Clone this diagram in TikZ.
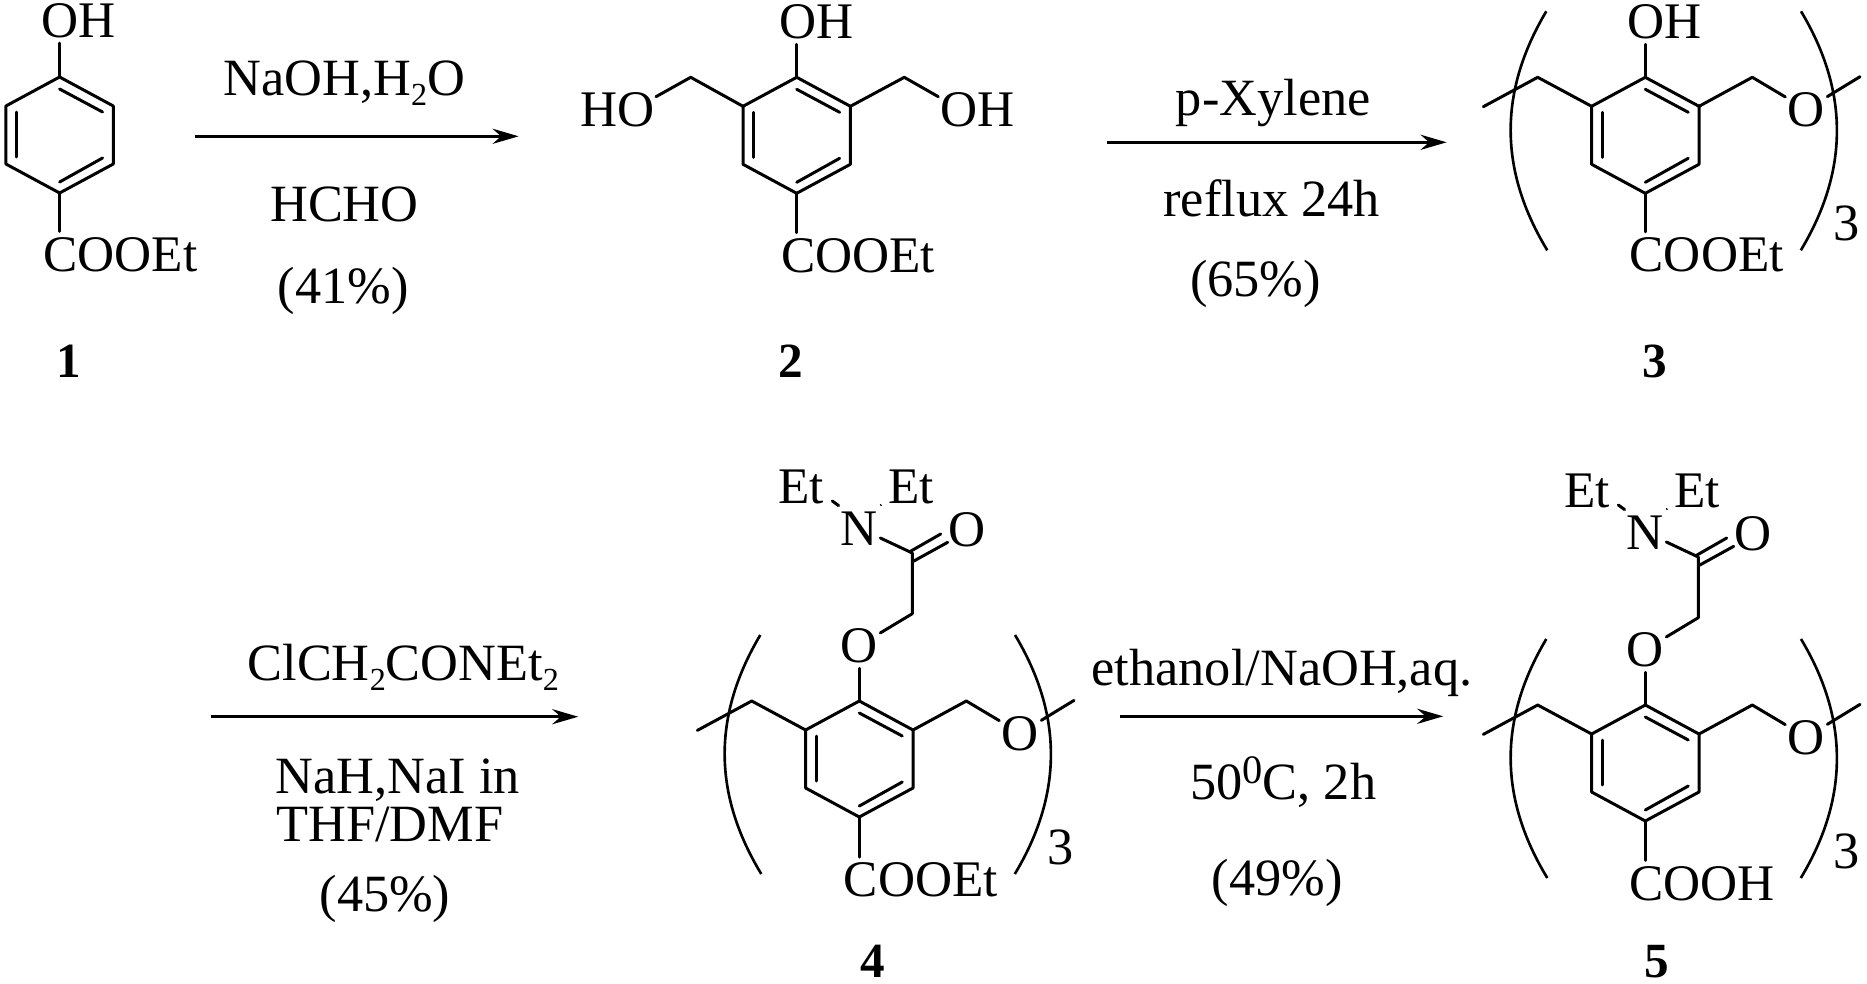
\documentclass[tikz,border=0pt]{standalone}
\usepackage{fontspec}
\setmainfont{Liberation Serif}
\usetikzlibrary{arrows.meta}

\newcommand{\subTxt}[1]{\raisebox{-.2em}{\fontsize{18.3}{18.3}\selectfont #1}}
\newcommand{\supTxt}[1]{\raisebox{.31em}{\fontsize{23}{23}\selectfont #1}}

\tikzset{
    bond/.style={line width=1.7pt, line cap=round, line join=round},
    brace/.style={line width=1.5pt},
    rarrow/.style={line width=2pt, -{Stealth[length=.52cm, width=.3cm]}},
    atom/.style={font=\fontsize{29.2}{30}\selectfont, anchor=base, inner sep=0pt,
        text height=19.2pt, text depth=0pt, outer xsep=.05cm, outer ysep=.12cm},
    rxn/.style={font=\fontsize{29.8}{30}\selectfont, anchor=base, inner sep=0pt},
    lbl/.style={font=\fontsize{28}{30}\selectfont\bfseries, anchor=base, inner sep=0pt}
}

% #1 prefix, #2 x, #3 y (top vertex), #4 half width
\newcommand{\benzeneRing}[4]{%
    \begin{scope}[shift={(#2,#3)}]
        \pgfmathsetmacro{\inW}{.8*#4}
        \coordinate (#1t) at (0,0);
        \coordinate (#1ur) at (#4,29);
        \coordinate (#1lr) at (#4,87);
        \coordinate (#1b) at (0,116);
        \coordinate (#1ll) at (-#4,87);
        \coordinate (#1ul) at (-#4,29);
        \draw[bond] (#1t) -- (#1ur) -- (#1lr) -- (#1b) -- (#1ll) -- (#1ul) -- cycle;
        \draw[bond] (0,12) -- (\inW,35);
        \draw[bond] (-\inW,35) -- (-\inW,80);
        \draw[bond] (0,105) -- (\inW,81);
    \end{scope}
}

% ring with both arms, O, brackets and the 3
\newcommand{\repeatUnit}[3]{%
    \benzeneRing{#1}{#2}{#3}{53.7}
    \begin{scope}[shift={(#2,#3)}]
        \coordinate (#1cl) at (-107.6,0);
        \coordinate (#1cr) at (107,0);
        \coordinate (#1sl) at (-162,29.4);
        \coordinate (#1sr) at (214.7,-.6);
        \node[atom] (#1o) at (161,49) {O};
        \node[rxn] (#1three) at (201.4,163) {3};
        \draw[bond] (#1sl) -- (#1cl) -- (#1ul);
        \draw[bond] (#1ur) -- (#1cr) -- (#1o);
        \draw[bond] (#1o) -- (#1sr);
        \coordinate (#1la) at (-99,-66);
        \coordinate (#1lz) at (-98,173);
        \coordinate (#1ra) at (155.7,-66);
        \coordinate (#1rz) at (155.5,173);
        \draw[brace] (#1la) to[bend right=31] (#1lz);
        \draw[brace] (#1ra) to[bend left=31] (#1rz);
    \end{scope}
}

% OCH2CONEt2 on top of the ring
\newcommand{\amideArm}[3]{%
    \begin{scope}[shift={(#2,#3)}]
        \node[atom] (#1eo) at (0,-38.6) {O};
        \coordinate (#1ch) at (53,-87.3);
        \coordinate (#1co) at (53,-148);
        \node[atom] (#1n) at (0,-156) {N};
        \node[atom] (#1do) at (108,-155) {O};
        \node[atom] (#1el) at (-58,-197.7) {Et};
        \node[atom] (#1er) at (52,-197.7) {Et};
        \draw[bond] (#1t) -- (#1eo);
        \draw[bond] (#1eo) -- (#1ch) -- (#1co) -- (#1n);
        \draw[bond] (50,-149) -- (81.4,-167);
        \draw[bond] (54,-139.7) -- (88.4,-158.7);
        \draw[bond] (-27,-200) -- (-20.7,-195.4);
        \draw[line width=.7pt] (21,-196.7) -- (22,-195.2);
    \end{scope}
}

\begin{document}
\begin{tikzpicture}[x=.02cm, y=-.02cm]
    \useasboundingbox (0,0) rectangle (1867,984);

    % compound 1
    \benzeneRing{a}{59.6}{77}{53.7}
    \node[atom] (aoh) at (78.7,37) {OH};
    \node[atom] (acooet) at (120.4,271) {COOEt};
    \draw[bond] (at) -- (at |- aoh.south);
    \draw[bond] (ab) -- (ab |- acooet.north);
    \node[lbl] (one) at (68.4,377.7) {1};

    % first arrow
    \coordinate (ar1a) at (194.8,136.3);
    \coordinate (ar1b) at (518.7,136.3);
    \draw[rarrow] (ar1a) -- (ar1b);
    \node[rxn] (naoh) at (344.4,95) {NaOH,H\subTxt{2}O};
    \node[rxn] (hcho) at (344.4,221.7) {HCHO};
    \node[rxn] (yielda) at (343.4,303) {(41\%)};

    % compound 2
    \benzeneRing{c}{796.7}{77.3}{53.7}
    \coordinate (ccl) at (690.7,77.3);
    \coordinate (ccr) at (904.3,77.3);
    \node[atom] (coh) at (816.3,38.3) {OH};
    \node[atom] (cho) at (617.5,126.7) {HO};
    \node[atom] (cohr) at (977.2,126.7) {OH};
    \node[atom] (ccooet) at (858.3,272.3) {COOEt};
    \draw[bond] (ct) -- (ct |- coh.south);
    \draw[bond] (cb) -- (cb |- ccooet.north);
    \draw[bond] (cul) -- (ccl) -- (656,96.7);
    \draw[bond] (cur) -- (ccr) -- (938.3,96.7);
    \node[lbl] (two) at (790.7,377.7) {2};

    % second arrow
    \coordinate (ar2a) at (1106.7,142.3);
    \coordinate (ar2b) at (1446.7,142.3);
    \draw[rarrow] (ar2a) -- (ar2b);
    \node[rxn] (xyl) at (1273.3,115) {p-Xylene};
    \node[rxn] (refl) at (1271.7,216) {reflux 24h};
    \node[rxn] (yieldb) at (1255.5,296) {(65\%)};

    % compound 3
    \repeatUnit{d}{1645.3}{77.3}
    \node[atom] (doh) at (1664.5,38.3) {OH};
    \node[atom] (dcooet) at (1706.7,271.7) {COOEt};
    \draw[bond] (dt) -- (dt |- doh.south);
    \draw[bond] (db) -- (db |- dcooet.north);
    \node[lbl] (three) at (1655,377.7) {3};

    % third arrow
    \coordinate (ar3a) at (211,716.7);
    \coordinate (ar3b) at (578.3,716.7);
    \draw[rarrow] (ar3a) -- (ar3b);
    \node[rxn] (clch) at (403.3,680) {ClCH\subTxt{2}CONEt\subTxt{2}};
    \node[rxn] (nah) at (397.8,793.3) {NaH,NaI in};
    \node[rxn] (thf) at (390,841.7) {THF/DMF};
    \node[rxn] (yieldc) at (385,911.7) {(45\%)};

    % compound 4
    \repeatUnit{e}{859.3}{701}
    \amideArm{e}{859.3}{701}
    \node[atom] (ecooet) at (920.8,896.8) {COOEt};
    \draw[bond] (eb) -- (eb |- ecooet.north);
    \node[lbl] (four) at (872.5,977.7) {4};

    % fourth arrow
    \coordinate (ar4a) at (1120,716.3);
    \coordinate (ar4b) at (1443.3,716.3);
    \draw[rarrow] (ar4a) -- (ar4b);
    \node[rxn] (etoh) at (1282,685) {ethanol/NaOH,aq.};
    \node[rxn] (temp) at (1283.3,799.3) {50\supTxt{0}C, 2h};
    \node[rxn] (yieldd) at (1277.3,895.7) {(49\%)};

    % compound 5
    \repeatUnit{f}{1645.3}{705}
    \amideArm{f}{1645.3}{705}
    \node[atom] (fcooh) at (1702,900.2) {COOH};
    \draw[bond] (fb) -- (fb |- fcooh.north);
    \node[lbl] (five) at (1656.7,977.7) {5};
\end{tikzpicture}
\end{document}
